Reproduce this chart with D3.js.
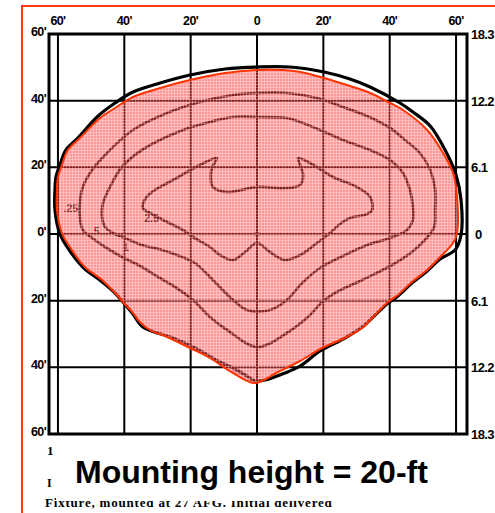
<!DOCTYPE html>
<html>
<head>
<meta charset="utf-8">
<script src="https://cdn.jsdelivr.net/npm/d3@7/dist/d3.min.js"></script>
<style>
  html, body { margin: 0; padding: 0; background: #fff; }
  svg { display: block; }
</style>
</head>
<body>
<svg id="chart" width="495" height="513"></svg>
<script>
// Isofootcandle plot, distances in feet from the pole (x: along road, y: across)
const xTicks = [-60, -40, -20, 0, 20, 40, 60];
const xTickLabels = ["60'", "40'", "20'", "0", "20'", "40'", "60'"];
const yTicks = [60, 40, 20, 0, -20, -40, -60];
const yTickLabelsFeet = ["60'", "40'", "20'", "0'", "20'", "40'", "60'"];
const yTickLabelsMeters = ["18.3", "12.2", "6.1", "0", "6.1", "12.2", "18.3"];

// Filled light pattern boundary (red outline)
const patternOutline = [
  [0, 49.2], [7.8, 49.2], [13.0, 48.6], [20.2, 46.8], [28.0, 44.4], [34.1, 42.3],
  [40.1, 39.3], [44.0, 37.2], [51.3, 31.2], [56.1, 24.3], [59.1, 18.3], [60.3, 11.1],
  [60.3, 0.3], [59.1, -2.7], [55.2, -6.9], [51.3, -10.8], [46.7, -14.4], [42.5, -18.3],
  [39.5, -20.4], [35.6, -24.3], [31.7, -28.2], [26.5, -31.2], [19.6, -34.2], [13.0, -38.1],
  [6.3, -41.4], [-0.6, -44.7], [-7.2, -41.7], [-14.2, -37.2], [-20.2, -34.2], [-27.1, -30.9],
  [-32.3, -28.8], [-35.3, -26.4], [-37.4, -23.7], [-40.4, -20.4], [-42.8, -17.7], [-46.7, -13.8],
  [-51.9, -9.9], [-55.8, -4.8], [-58.8, 0.3], [-60.3, 7.2], [-60.3, 13.2], [-60.0, 17.1],
  [-58.8, 20.7], [-57.0, 25.2], [-53.4, 28.8], [-47.3, 34.8], [-42.8, 37.8], [-37.4, 41.1],
  [-29.2, 43.8], [-20.2, 46.2], [-9.6, 48.3]
];

// Outermost isoline (.25 fc)
const iso025 = [
  [0, 50.1], [9.9, 50.1], [20.2, 48.6], [28.0, 46.5], [34.1, 44.1], [43.1, 39.3],
  [47.0, 36.6], [52.2, 32.4], [56.7, 25.2], [60.0, 17.7], [61.5, 10.2], [61.5, -0.3],
  [59.7, -4.8], [55.2, -7.5], [51.3, -11.1], [46.7, -14.7], [42.5, -18.6], [39.5, -20.7],
  [35.6, -24.3], [31.7, -27.9], [26.5, -31.2], [19.0, -35.1], [13.0, -39.6], [8.4, -41.7],
  [2.4, -43.8], [-0.6, -44.1], [-2.1, -43.2], [-7.2, -40.2], [-11.2, -38.4], [-19.3, -33.9],
  [-25.3, -31.2], [-34.4, -27.9], [-37.4, -24.0], [-40.4, -20.4], [-42.8, -17.7], [-47.0, -14.1],
  [-52.2, -10.2], [-56.4, -5.1], [-59.4, 0], [-60.9, 7.2], [-60.9, 13.2], [-60.6, 17.1],
  [-59.4, 20.7], [-57.6, 25.2], [-54.0, 28.8], [-47.9, 35.4], [-42.8, 39.3], [-37.4, 42.6],
  [-29.2, 45.3], [-20.2, 47.7], [-9.6, 49.5]
];

// .5 fc isoline
const iso05 = [
  [0, 42.3], [9.0, 42.3], [18.1, 40.8], [25.0, 38.4], [33.2, 35.4], [40.1, 31.8],
  [44.6, 28.2], [49.1, 24.3], [52.2, 19.2], [53.7, 13.2], [53.7, 7.2], [53.4, 2.1],
  [50.6, -1.8], [46.7, -5.4], [40.7, -9.3], [31.7, -13.8], [23.5, -17.7], [19.6, -20.4],
  [16.0, -24.3], [9.0, -29.7], [0, -33.9], [-9.0, -28.8], [-14.2, -24.9], [-19.3, -19.8],
  [-24.7, -15.9], [-29.8, -12.9], [-34.7, -9.9], [-40.7, -6.9], [-45.8, -3.9], [-49.7, -1.2],
  [-52.5, 1.2], [-53.4, 5.1], [-53.4, 9.3], [-52.5, 14.1], [-49.7, 19.2], [-45.2, 24.3],
  [-37.4, 31.2], [-27.1, 36.3], [-17.2, 39.6], [-7.2, 41.7]
];

// 1 fc isoline
const iso1 = [
  [0, 35.1], [9.0, 34.8], [13.0, 33.6], [19.0, 31.2], [25.9, 28.2], [34.1, 25.2],
  [40.1, 22.2], [44.0, 18.3], [46.1, 13.2], [47.0, 8.1], [47.0, 4.2], [45.2, 1.2],
  [40.1, -1.2], [33.2, -3.3], [25.9, -6.6], [19.0, -10.2], [13.6, -14.7], [9.0, -19.8],
  [3.9, -22.8], [-3.0, -22.8], [-7.2, -19.8], [-13.3, -13.8], [-18.7, -8.7], [-22.6, -6.9],
  [-28.6, -4.8], [-34.7, -3.3], [-39.8, -1.2], [-43.4, 0.3], [-45.8, 2.1], [-46.7, 5.1],
  [-46.4, 9.3], [-43.7, 15.3], [-40.7, 20.1], [-34.7, 25.2], [-22.3, 31.2], [-14.2, 33.6],
  [-7.2, 35.1]
];

// 2.5 fc isoline
const iso25 = [
  [-34.4, 7.8], [-33.5, 10.8], [-30.8, 13.2], [-25.3, 16.2], [-17.2, 20.7], [-12.1, 22.8],
  [-13.6, 19.8], [-13.9, 16.8], [-13.3, 14.1], [-9.0, 12.6], [0, 14.1], [9.0, 13.8],
  [13.0, 14.7], [13.9, 17.7], [13.0, 20.7], [12.4, 22.8], [16.0, 21.3], [22.9, 17.1],
  [30.1, 14.1], [34.1, 11.1], [34.7, 7.2], [33.2, 6.0], [28.0, 4.8], [25.0, 3.0],
  [22.0, 0.3], [18.1, -2.7], [13.0, -6.3], [8.4, -7.8], [3.9, -5.4], [0, -2.7],
  [-3.6, -5.4], [-7.2, -7.8], [-11.2, -6.3], [-14.2, -3.9], [-19.3, -0.9], [-22.3, 1.2],
  [-27.1, 3.6], [-31.7, 6.0]
];

// Isoline value labels and where they sit (feet)
const isoLabelText = [".25", ".5", "1", "2.5"];
const isoLabelX = [-56.1, -48.8, -39.5, -31.8];
const isoLabelY = [6.6, -0.3, -5.1, 3.6];

const captionLines = ["1", "I", "Fixture, mounted at 27 AFG. Initial delivered"];
const title = "Mounting height = 20-ft";

const svg = d3.select("#chart");
const W = 495, H = 513;

const x = d3.scaleLinear().domain([-62.7, 63.3]).range([49, 467]);
const y = d3.scaleLinear().domain([-60, 60]).range([434, 34]);

// hatched pink fill
const defs = svg.append("defs");
const pat = defs.append("pattern")
  .attr("id", "pinkDots")
  .attr("patternUnits", "userSpaceOnUse")
  .attr("width", 3).attr("height", 3);
pat.append("rect").attr("width", 3).attr("height", 3).attr("fill", "rgba(255,60,60,0.52)");
pat.append("rect").attr("width", 3).attr("height", 1).attr("fill", "rgba(255,255,255,0.3)");
pat.append("rect").attr("width", 1).attr("height", 3).attr("fill", "rgba(255,255,255,0.3)");

svg.append("rect").attr("width", W).attr("height", H).attr("fill", "#fff");

// outer orange border
svg.append("rect")
  .attr("x", 22).attr("y", 6).attr("width", 520).attr("height", 540)
  .attr("fill", "none").attr("stroke", "#ff3a12").attr("stroke-width", 2);

// grid
const g = svg.append("g");
g.selectAll("line.vx").data(xTicks).join("line")
  .attr("x1", d => x(d)).attr("x2", d => x(d))
  .attr("y1", y(60)).attr("y2", y(-60))
  .attr("stroke", "#000").attr("stroke-width", 2);
g.selectAll("line.hy").data(yTicks).join("line")
  .attr("x1", x(-62.7)).attr("x2", x(63.3))
  .attr("y1", d => y(d)).attr("y2", d => y(d))
  .attr("stroke", "#000").attr("stroke-width", 2);
g.append("rect")
  .attr("x", x(-62.7)).attr("y", y(60))
  .attr("width", x(63.3) - x(-62.7)).attr("height", y(-60) - y(60))
  .attr("fill", "none").attr("stroke", "#000").attr("stroke-width", 3);

// axis labels
const sans = "Liberation Sans, Arial, sans-serif";
svg.append("g").selectAll("text").data(xTicks).join("text")
  .attr("x", d => x(d)).attr("y", 25)
  .attr("text-anchor", "middle")
  .attr("font-size", 12.5)
  .attr("font-family", sans).attr("font-weight", 900)
  .attr("letter-spacing", -0.6)
  .text((d, i) => xTickLabels[i]);
svg.append("g").selectAll("text").data(yTicks).join("text")
  .attr("x", 46).attr("y", d => y(d) + 2)
  .attr("text-anchor", "end")
  .attr("font-size", 12.5)
  .attr("font-family", sans).attr("font-weight", 900)
  .attr("letter-spacing", -0.6)
  .text((d, i) => yTickLabelsFeet[i]);
svg.append("g").selectAll("text").data(yTicks).join("text")
  .attr("x", (d, i) => yTickLabelsMeters[i] === "0" ? 475 : 471)
  .attr("y", d => y(d) + 5)
  .attr("font-size", 13)
  .attr("font-family", sans).attr("font-weight", 900)
  .attr("letter-spacing", -0.6)
  .text((d, i) => yTickLabelsMeters[i]);

// isolines
const line = d3.line().x(d => x(d[0])).y(d => y(d[1])).curve(d3.curveCatmullRomClosed.alpha(0.5));
const iso = svg.append("g").attr("fill", "none").attr("stroke", "#000").attr("stroke-linejoin", "round");
iso.append("path").attr("d", line(iso05)).attr("stroke-width", 2.7);
iso.append("path").attr("d", line(iso1)).attr("stroke-width", 2.7);
iso.append("path").attr("d", line(iso25)).attr("stroke-width", 2.7);
iso.append("path").attr("d", line(iso025)).attr("stroke-width", 3.2);

// pole position
svg.append("circle").attr("cx", x(0)).attr("cy", y(0)).attr("r", 2.4).attr("fill", "#000");

svg.append("g").selectAll("text").data(isoLabelText).join("text")
  .attr("x", (d, i) => x(isoLabelX[i])).attr("y", (d, i) => y(isoLabelY[i]))
  .attr("text-anchor", "middle")
  .attr("font-size", 10.5)
  .attr("font-family", sans).attr("font-weight", 900)
  .attr("fill", "#000")
  .text(d => d);

// translucent pattern area with red outline
svg.append("path")
  .attr("d", line(patternOutline))
  .attr("fill", "url(#pinkDots)")
  .attr("stroke", "#ff3300").attr("stroke-width", 2);

// caption lines partly hidden behind the title box
const cap = svg.append("g")
  .attr("font-family", "Liberation Serif, Times New Roman, serif")
  .attr("font-weight", "bold").attr("fill", "#000");
cap.append("text").attr("x", 47).attr("y", 455).attr("font-size", 13).text(captionLines[0]);
cap.append("text").attr("x", 47).attr("y", 487).attr("font-size", 12).text(captionLines[1]);
cap.append("text").attr("x", 45).attr("y", 507).attr("font-size", 13)
  .attr("letter-spacing", 0.8).text(captionLines[2]);

svg.append("rect").attr("x", 56).attr("y", 458).attr("width", 420).attr("height", 43).attr("fill", "#fff");

svg.append("text")
  .attr("x", 75).attr("y", 483)
  .attr("font-family", sans)
  .attr("font-weight", "bold").attr("font-size", 32)
  .attr("fill", "#000")
  .text(title);
</script>
</body>
</html>
